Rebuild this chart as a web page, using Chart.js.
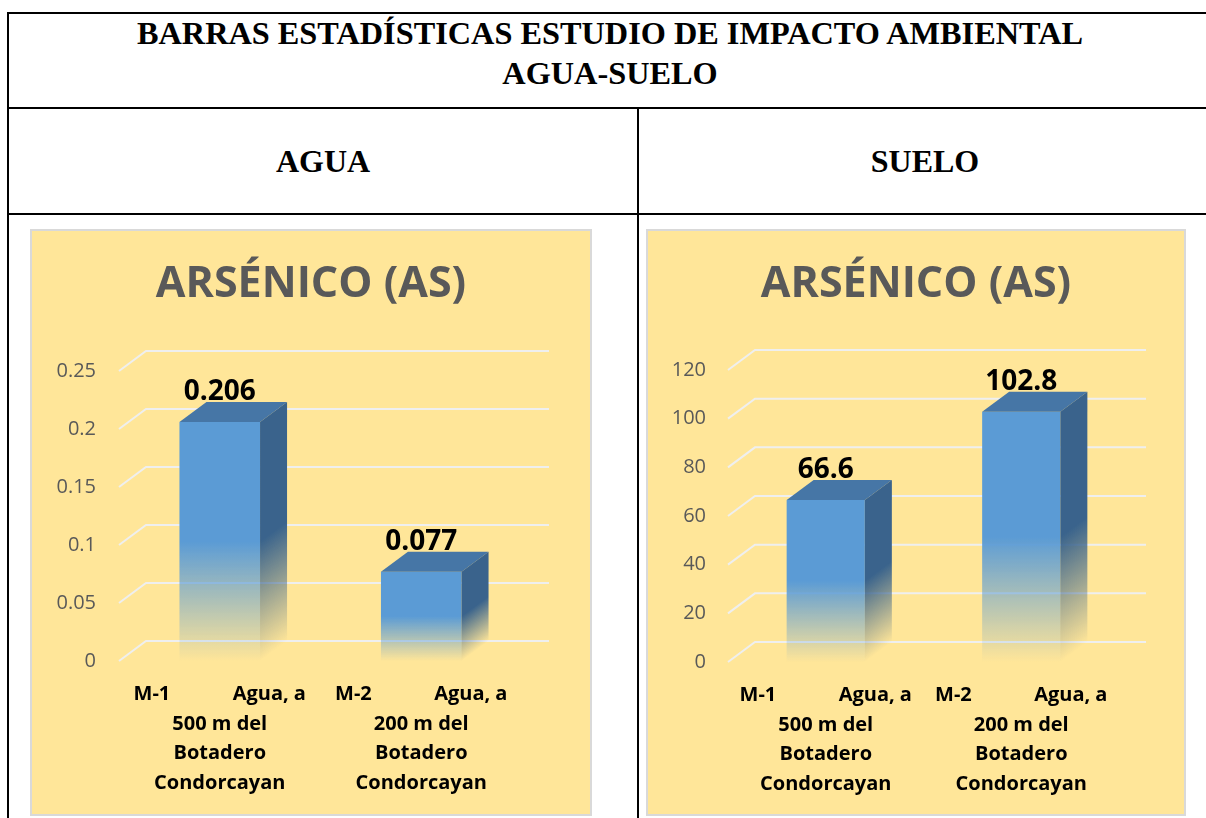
<!DOCTYPE html>
<html lang="es">
<head>
<meta charset="utf-8">
<title>Barras estadísticas - Arsénico</title>
<script src="https://cdn.jsdelivr.net/npm/chart.js@4.4.0/dist/chart.umd.min.js"></script>
<style>
    body { margin: 0; width: 1206px; height: 818px; overflow: hidden; position: relative; background: #fff; font-family: "Liberation Serif", "Times New Roman", serif; }
    .ln { position: absolute; background: #000; }
    .hd { position: absolute; font-weight: bold; font-size: 32px; line-height: 40px; text-align: center; color: #000; }
    .panel { position: absolute; top: 229px; height: 583px; border: 2px solid #D9D9D9; background: #FFE699; }
    .panel canvas { display: block; }
</style>
</head>
<body>

<!-- table rules -->
<div class="ln" style="left:7px;top:12px;width:1199px;height:2px"></div>
<div class="ln" style="left:7px;top:12px;width:2px;height:806px"></div>
<div class="ln" style="left:7px;top:107px;width:1199px;height:2px"></div>
<div class="ln" style="left:7px;top:213px;width:1199px;height:2px"></div>
<div class="ln" style="left:637px;top:107px;width:2px;height:711px"></div>

<div class="hd" style="left:9px;width:1202px;top:13px;font-size:32.3px">BARRAS ESTADÍSTICAS ESTUDIO DE IMPACTO AMBIENTAL<br>AGUA-SUELO</div>
<div class="hd" style="left:9px;width:628px;top:141px">AGUA</div>
<div class="hd" style="left:639px;width:572px;top:141px">SUELO</div>

<div class="panel" style="left:30px;width:558px"><canvas id="aguaChart" width="558" height="583"></canvas></div>
<div class="panel" style="left:646px;width:536px"><canvas id="sueloChart" width="536" height="583"></canvas></div>

<script>
// ---- data ----
var chartTitle = 'ARSÉNICO (AS)';
var categories = [
    ['M-1            Agua, a', '500 m del', 'Botadero', 'Condorcayan'],
    ['M-2            Agua, a', '200 m del', 'Botadero', 'Condorcayan']
];

var aguaValues = [0.206, 0.077];
var aguaValueLabels = ['0.206', '0.077'];
var aguaTicks = [0, 0.05, 0.1, 0.15, 0.2, 0.25];
var aguaTickLabels = ['0', '0.05', '0.1', '0.15', '0.2', '0.25'];

var sueloValues = [66.6, 102.8];
var sueloValueLabels = ['66.6', '102.8'];
var sueloTicks = [0, 20, 40, 60, 80, 100, 120];
var sueloTickLabels = ['0', '20', '40', '60', '80', '100', '120'];

(function() {
    'use strict';

    var FONT = '"Open Sans", "Liberation Sans", sans-serif';
    var DX = 27, DY = -20;          // depth of the 3d bars
    var FRONT = [91, 155, 213];
    var TOP = 'rgb(70, 118, 166)';
    var SIDE = [58, 99, 140];
    var TITLE_SIZE = 43;

    function rgba(c, a) {
        return 'rgba(' + c[0] + ',' + c[1] + ',' + c[2] + ',' + a + ')';
    }

    function fade(g, c) {
        g.addColorStop(0, rgba(c, 1));
        g.addColorStop(0.5, rgba(c, 1));
        g.addColorStop(1, rgba(c, 0));
        return g;
    }

    /**
     * Back wall grid lines + 3d top/side faces + value labels
     */
    var bar3d = {
        id: 'bar3d',
        afterLayout: function(chart) {
            // center the title over the whole panel, not the padded area
            var t = chart.titleBlock;
            if (t) {
                t.left = 0;
                t.right = chart.width;
                t.width = chart.width;
            }
        },
        beforeDatasetsDraw: function(chart) {
            var ctx = chart.ctx, ys = chart.scales.y, area = chart.chartArea;
            ctx.save();
            ctx.strokeStyle = '#EFEFEF';
            ctx.lineWidth = 2;
            ys.ticks.forEach(function(t) {
                var y = ys.getPixelForValue(t.value);
                ctx.beginPath();
                ctx.moveTo(area.left, y);
                ctx.lineTo(area.left + DX, y + DY);
                ctx.lineTo(area.right + DX, y + DY);
                ctx.stroke();
            });
            ctx.restore();
        },
        afterDatasetsDraw: function(chart, args, opts) {
            var ctx = chart.ctx;
            var meta = chart.getDatasetMeta(0);
            meta.data.forEach(function(bar, i) {
                var p = bar.getProps(['x', 'y', 'base', 'width'], true);
                var l = p.x - p.width / 2, r = p.x + p.width / 2;

                ctx.save();
                ctx.fillStyle = TOP;
                ctx.beginPath();
                ctx.moveTo(l, p.y);
                ctx.lineTo(l + DX, p.y + DY);
                ctx.lineTo(r + DX, p.y + DY);
                ctx.lineTo(r, p.y);
                ctx.closePath();
                ctx.fill();

                // side face: skew so the fade follows the bar depth
                ctx.translate(r, 0);
                ctx.transform(1, DY / DX, 0, 1, 0, 0);
                ctx.fillStyle = fade(ctx.createLinearGradient(0, p.y, 0, p.base), SIDE);
                ctx.fillRect(0, p.y, DX, p.base - p.y);
                ctx.restore();

                ctx.save();
                ctx.font = 'bold 28px ' + FONT;
                ctx.fillStyle = '#000';
                ctx.textAlign = 'center';
                ctx.textBaseline = 'middle';
                ctx.fillText(opts.labels[i], p.x, p.y - 30);
                ctx.restore();
            });
        }
    };

    function makeChart(id, values, valueLabels, ticks, tickLabels, cfg) {
        var el = document.getElementById(id);
        var titleTop = 28;
        return new Chart(el.getContext('2d'), {
            type: 'bar',
            data: {
                labels: categories,
                datasets: [{
                    data: values,
                    borderWidth: 0,
                    barPercentage: 0.4,
                    categoryPercentage: 1,
                    backgroundColor: function(c) {
                        var chart = c.chart;
                        if (!chart.chartArea) return rgba(FRONT, 1);
                        var ys = chart.scales.y;
                        var g = chart.ctx.createLinearGradient(0, ys.getPixelForValue(c.raw), 0, ys.getPixelForValue(0));
                        return fade(g, FRONT);
                    }
                }]
            },
            options: {
                responsive: false,
                animation: false,
                events: [],
                layout: { autoPadding: false, padding: { left: 0, top: 0, right: cfg.right, bottom: 0 } },
                plugins: {
                    legend: { display: false },
                    tooltip: { enabled: false },
                    title: {
                        display: true,
                        text: chartTitle,
                        color: '#595959',
                        font: { family: FONT, size: TITLE_SIZE, weight: 'bold', lineHeight: 1.2 },
                        padding: { top: titleTop, bottom: cfg.top - titleTop - TITLE_SIZE * 1.2 }
                    },
                    bar3d: { labels: valueLabels }
                },
                scales: {
                    x: {
                        grid: { display: false, drawTicks: false },
                        border: { display: false },
                        ticks: {
                            color: '#000',
                            font: { family: FONT, size: 20, weight: 'bold', lineHeight: 1.475 },
                            padding: 19,
                            maxRotation: 0,
                            autoSkip: false
                        },
                        afterFit: function(s) { s.height = cfg.bottom; }
                    },
                    y: {
                        min: ticks[0],
                        max: ticks[ticks.length - 1],
                        grid: { display: false, drawTicks: false },
                        border: { display: false },
                        afterBuildTicks: function(s) {
                            s.ticks = ticks.map(function(v) { return { value: v }; });
                        },
                        ticks: {
                            color: '#595959',
                            font: { family: FONT, size: 20 },
                            padding: cfg.tickPad,
                            callback: function(v, i) { return tickLabels[i]; }
                        },
                        afterFit: function(s) { s.width = cfg.left; }
                    }
                }
            },
            plugins: [bar3d]
        });
    }

    function init() {
        makeChart('aguaChart', aguaValues, aguaValueLabels, aguaTicks, aguaTickLabels,
            { left: 87, right: 68, top: 140, bottom: 153, tickPad: 23 });
        makeChart('sueloChart', sueloValues, sueloValueLabels, sueloTicks, sueloTickLabels,
            { left: 80, right: 65, top: 139, bottom: 152, tickPad: 22 });
    }

    if (document.fonts && document.fonts.load) {
        Promise.all([
            document.fonts.load('bold 20px "Open Sans"'),
            document.fonts.load('20px "Open Sans"')
        ]).then(init, init);
    } else {
        init();
    }
})();
</script>
</body>
</html>
